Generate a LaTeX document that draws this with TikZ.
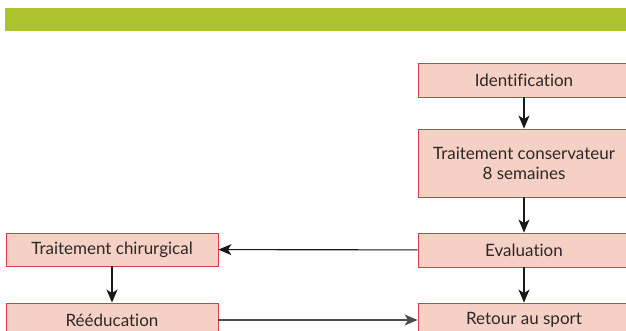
\documentclass[tikz,border=0pt]{standalone}
\usepackage{fontspec}
\setmainfont{Lato}[Ligatures={NoCommon}]
\usepackage{tikz}
\usetikzlibrary{arrows.meta}
\definecolor{barGreen}{RGB}{174,196,44}
\definecolor{boxFill}{RGB}{245,208,196}
\definecolor{boxLine}{RGB}{224,58,74}
\definecolor{textGray}{RGB}{45,40,40}
\tikzset{
	flowbox/.style={fill=boxFill, draw=boxLine, line width=0.9pt, text=textGray,
		minimum width=212pt, minimum height=34pt, inner sep=0pt, align=center,
		font=\fontsize{17}{20}\selectfont},
	flowarrow/.style={-{Stealth[length=13pt,width=11pt,inset=3.5pt]}, line width=1.1pt, draw=black!90},
}

\begin{document}
\begin{tikzpicture}[x=1pt, y=-1pt]
	
	\useasboundingbox (0,0) rectangle (626,331);
	\fill[barGreen] (5,8) rectangle (630,31);
	
	\node[flowbox] (ident)  at (524,80)    {Identification};
	\node[flowbox, minimum height=68pt] (conserv) at (524,163) {Traitement conservateur\\8 semaines};
	\node[flowbox] (eval)   at (524,250)   {Evaluation};
	\node[flowbox] (retour) at (524,320)   {Retour au sport};
	\node[flowbox, minimum height=33pt] (chir) at (112,249.5) {Traitement chirurgical};
	\node[flowbox] (reedu)  at (112,320)   {Rééducation};
	
	\draw[flowarrow] (ident) -- (conserv);
	\draw[flowarrow] (conserv) -- (eval);
	\draw[flowarrow] (eval) -- (retour);
	\draw[flowarrow] (eval) -- (chir);
	\draw[flowarrow] (chir) -- (reedu);
	\draw[flowarrow, draw=black!70, fill=black] (reedu) -- (retour);
	
\end{tikzpicture}
\end{document}
